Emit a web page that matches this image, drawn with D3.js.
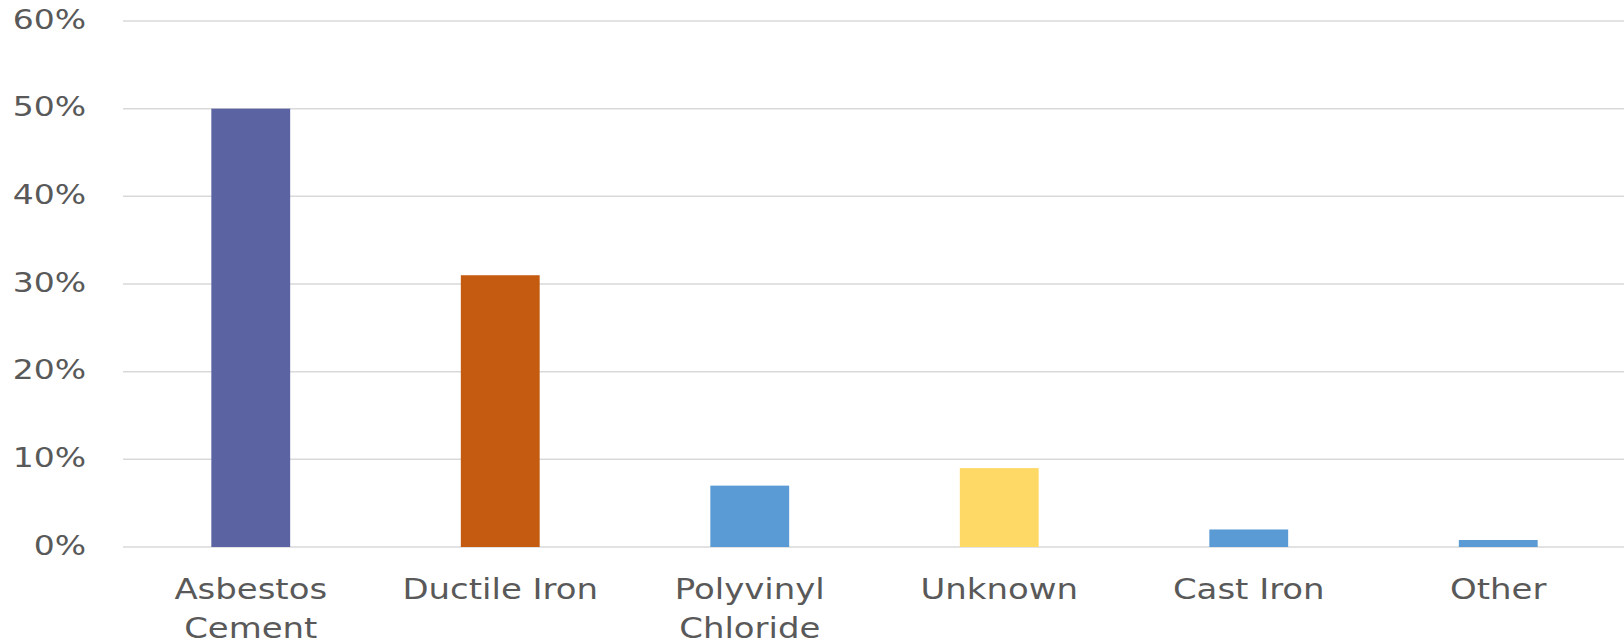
<!DOCTYPE html>
<html>
<head>
<meta charset="utf-8">
<script src="https://cdn.jsdelivr.net/npm/d3@7"></script>
<style>
    html, body { margin: 0; padding: 0; background: #fff; }
    svg { display: block; }
</style>
</head>
<body>
<div id="chart"></div>
<script>
// pipe material shares
const categories = ["Asbestos Cement", "Ductile Iron", "Polyvinyl Chloride", "Unknown", "Cast Iron", "Other"];
const shares = [0.50, 0.31, 0.07, 0.09, 0.02, 0.008];
const barColors = ["#5b63a3", "#c55a11", "#5b9bd5", "#ffd966", "#5b9bd5", "#5b9bd5"];
const yTicks = [0, 0.1, 0.2, 0.3, 0.4, 0.5, 0.6];
// labels that Excel split onto two lines
const labelLines = [["Asbestos", "Cement"], ["Ductile Iron"], ["Polyvinyl", "Chloride"], ["Unknown"], ["Cast Iron"], ["Other"]];

const svg_w = 1624, svg_h = 643;
const margin = { top: 21, right: 0, bottom: 96, left: 126 };
const width = svg_w - margin.left - margin.right,
    height = svg_h - margin.top - margin.bottom;

// text in the picture is stretched sideways
const stretch = 1.17,
    tickStretch = 1.27;

const svg = d3.select("#chart")
    .append("svg")
    .attr("width", svg_w)
    .attr("height", svg_h);

const g = svg.append("g")
    .attr("transform", "translate(" + margin.left + "," + margin.top + ")");

const x = d3.scaleBand()
    .domain(categories)
    .range([0, width - 1])
    .paddingInner(0.684)
    .paddingOuter(0.342);

const y = d3.scaleLinear()
    .domain([0, 0.6])
    .range([height, 0]);

// gridlines
g.selectAll(".grid")
    .data(yTicks)
    .enter()
    .append("line")
    .attr("class", "grid")
    .attr("x1", -3)
    .attr("x2", width)
    .attr("y1", d => y(d))
    .attr("y2", d => y(d))
    .style("stroke", "#d9d9d9")
    .style("stroke-width", 1.5);

// y axis labels
const fmt = d3.format(".0%");
g.selectAll(".ylabel")
    .data(yTicks)
    .enter()
    .append("text")
    .attr("class", "ylabel")
    .attr("text-anchor", "end")
    .attr("transform", d => "translate(" + (86 - margin.left) + "," + y(d) + ") scale(" + tickStretch + ",1)")
    .attr("dy", "0.3em")
    .style("fill", "#595959")
    .style("font-family", "'DejaVu Sans', sans-serif")
    .style("font-size", "26px")
    .text(d => fmt(d));

// bars
g.selectAll(".bar")
    .data(categories)
    .enter()
    .append("rect")
    .attr("class", "bar")
    .attr("x", d => x(d))
    .attr("y", (d, i) => y(shares[i]))
    .attr("width", x.bandwidth())
    .attr("height", (d, i) => height - y(shares[i]))
    .style("fill", (d, i) => barColors[i]);

// category labels
const labels = g.selectAll(".xlabel")
    .data(categories)
    .enter()
    .append("text")
    .attr("class", "xlabel")
    .attr("text-anchor", "middle")
    .attr("transform", d => "translate(" + (x(d) + x.bandwidth() / 2) + "," + (height + 52) + ") scale(" + stretch + ",1)")
    .style("fill", "#595959")
    .style("font-family", "'DejaVu Sans', sans-serif")
    .style("font-size", "29px");

labels.each(function (d, i) {
    d3.select(this).selectAll("tspan")
        .data(labelLines[i])
        .enter()
        .append("tspan")
        .attr("x", 0)
        .attr("y", (w, j) => j * 39)
        .text(w => w);
});
</script>
</body>
</html>
